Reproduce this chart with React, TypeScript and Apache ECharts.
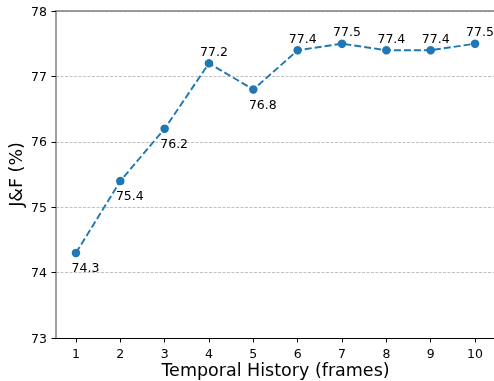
import React, { useEffect, useRef } from "react";
import * as echarts from "echarts";

const frames = [1, 2, 3, 4, 5, 6, 7, 8, 9, 10];
const jf = [74.3, 75.4, 76.2, 77.2, 76.8, 77.4, 77.5, 77.4, 77.4, 77.5];
const labelPos = ["bottom", "bottom", "bottom", "top", "bottom", "top", "top", "top", "top", "top"];
const yTicks = [73, 74, 75, 76, 77, 78];

export default function App() {
  const ref = useRef<HTMLDivElement>(null);
  useEffect(() => {
    const chart = echarts.init(ref.current!, null, { renderer: "svg" });
    const font = "DejaVu Sans";
    chart.setOption({
      animation: false,
      textStyle: { fontFamily: font },
      grid: { left: 56, top: 11, width: 439, height: 327, containLabel: false, outerBoundsMode: "none" },
      xAxis: [
        {
          type: "value",
          min: 0.55,
          max: 10.45,
          name: "Temporal History (frames)",
          nameLocation: "middle",
          nameMoveOverlap: false,
          nameGap: 22.5,
          nameTextStyle: { fontSize: 17.5, color: "#000", fontFamily: font },
          axisLine: { show: true, lineStyle: { color: "#000", width: 1 } },
          axisTick: { show: true, length: 4.5, customValues: frames, lineStyle: { color: "#000" } },
          axisLabel: { customValues: frames, color: "#000", fontSize: 12.5, margin: 9, fontFamily: font },
          splitLine: { show: false },
        },
        {
          type: "value",
          position: "top",
          min: 0.55,
          max: 10.45,
          axisLine: { show: true, lineStyle: { color: "#7f7f7f", width: 1.5 } },
          axisTick: { show: false },
          axisLabel: { show: false },
          splitLine: { show: false },
        },
      ],
      yAxis: {
        type: "value",
        min: 73,
        max: 78,
        interval: 1,
        name: "J&F (%)",
        nameLocation: "middle",
        nameMoveOverlap: false,
        nameGap: 31,
        nameTextStyle: { fontSize: 17.5, color: "#000", fontFamily: font },
        axisLine: { show: true, lineStyle: { color: "#7f7f7f", width: 1.5 } },
        axisTick: { show: true, length: 4.5, lineStyle: { color: "#000" } },
        axisLabel: { color: "#000", fontSize: 12.5, margin: 9, fontFamily: font,
          formatter: (v: number) => (yTicks.includes(v) ? String(v) : "") },
        splitLine: { show: true, lineStyle: { color: "#b0b0b0", type: [3, 1.5], width: 0.8 } },
      },
      series: [
        {
          type: "line",
          data: frames.map((f, i) => ({
            value: [f, jf[i]],
            label: labelPos[i] === "top"
              ? { position: "top", distance: 1, offset: [5, 0] }
              : { position: "bottom", distance: 4, offset: [9.5, 0] },
          })),
          lineStyle: { color: "#1f77b4", width: 1.9, type: [7, 3] },
          itemStyle: { color: "#1f77b4" },
          symbol: "circle",
          symbolSize: 8.5,
          label: {
            show: true,
            color: "#000",
            fontSize: 12.5,
            fontFamily: font,
            formatter: (p: any) => p.value[1].toFixed(1),
          },
        },
      ],
    });
    return () => chart.dispose();
  }, []);
  return <div ref={ref} style={{ position: "fixed", left: 0, top: 0, width: 494, height: 381 }} />;
}
